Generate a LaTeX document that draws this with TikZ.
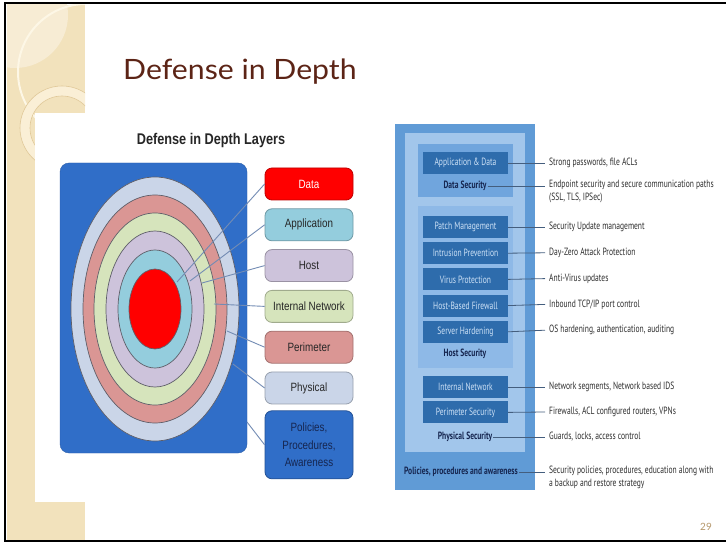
\documentclass[tikz,border=0pt]{standalone}
\usepackage{fontspec}
\setmainfont{Liberation Sans}
\newfontfamily\slidefont[FakeStretch=1.08]{Lato}
\newfontfamily\pagefont{Lato}
\newfontfamily\layerfont[FakeStretch=0.82]{Liberation Sans}
\newfontfamily\narrowfont[FakeStretch=0.72]{PT Sans}
\usetikzlibrary{positioning}

\begin{document}
\begin{tikzpicture}[x=1pt,y=-1pt,
  ringline/.style={draw=ringedge,line width=0.7pt},
  layerlabel/.style={draw=#1!75!black,fill=#1,rounded corners=7pt,line width=0.8pt,
    minimum width=88pt,minimum height=32pt,inner sep=1pt,
    font=\layerfont\fontsize{12}{17.5}\selectfont,text=black!85},
  ringlink/.style={draw=linkblue,line width=0.9pt},
  darkbox/.style={fill=boxdark,minimum width=85pt,minimum height=22pt,inner sep=0pt,
    font=\narrowfont\fontsize{10.5}{12}\selectfont,text=boxtext},
  layername/.style={font=\narrowfont\bfseries\fontsize{10.5}{12}\selectfont,text=navytext,inner sep=1pt},
  note/.style={font=\narrowfont\fontsize{10.5}{13}\selectfont,text=notetext,
    inner xsep=4pt,inner ysep=1pt,align=left},
  notelink/.style={draw=notelinecol,line width=0.8pt}]
\definecolor{stripbeige}{RGB}{242,226,188}
\definecolor{stripglow}{RGB}{247,236,212}
\definecolor{arccream}{RGB}{253,247,230}
\definecolor{ringcream}{RGB}{250,239,214}
\definecolor{ringtan}{RGB}{224,200,152}
\definecolor{titlebrown}{RGB}{92,36,22}
\definecolor{pagetan}{RGB}{180,150,105}
\definecolor{layerblue}{RGB}{48,110,200}
\definecolor{ringedge}{RGB}{95,95,105}
\definecolor{physfill}{RGB}{202,213,232}
\definecolor{perifill}{RGB}{218,150,148}
\definecolor{netfill}{RGB}{214,228,188}
\definecolor{hostfill}{RGB}{205,195,219}
\definecolor{appfill}{RGB}{148,205,221}
\definecolor{datafill}{RGB}{255,0,0}
\definecolor{linkblue}{RGB}{115,140,180}
\definecolor{navytext}{RGB}{22,38,80}
\definecolor{outerblue}{RGB}{96,155,214}
\definecolor{midblue}{RGB}{162,198,235}
\definecolor{datablue}{RGB}{112,165,221}
\definecolor{hostblue}{RGB}{142,185,231}
\definecolor{boxdark}{RGB}{46,108,172}
\definecolor{boxtext}{RGB}{205,225,246}
\definecolor{notetext}{RGB}{45,45,45}
\definecolor{notelinecol}{RGB}{68,94,126}

\useasboundingbox (0,0) rectangle (726,545);

% slide background
\fill[stripbeige] (7,5) rectangle (85,541);
\begin{scope}
\clip (7,5) rectangle (85,541);
\fill[stripglow] (15,15) circle [radius=53];
\draw[arccream,line width=2pt] (86,72) circle [radius=68];
\draw[ringtan,fill=ringcream,even odd rule,line width=0.6pt]
  (62,128) circle [radius=42] (62,128) circle [radius=32];
\end{scope}
\fill[white] (35,113) rectangle (370,502);
\draw[line width=2.5pt] (726,3) -- (5,3) -- (5,541) -- (726,541);

\node[anchor=base west,inner sep=0pt,font=\slidefont\fontsize{28}{30}\selectfont,text=titlebrown]
  (slidetitle) at (123,80) {Defense in Depth};
\node[font=\pagefont\fontsize{10}{12}\selectfont,text=pagetan] (pagenum) at (706,527) {29};

% layers picture
\node[font=\layerfont\bfseries\fontsize{15.5}{17}\selectfont,text=black!85]
  (layershead) at (211,140) {Defense in Depth Layers};
\node[fill=layerblue,draw=layerblue!85!black,rounded corners=9pt,
  minimum width=187pt,minimum height=290pt] (bluebg) at (153.5,308) {};
\coordinate (ctr) at (155,309);
\draw[ringline,fill=physfill] (ctr) ellipse [x radius=84,y radius=132];
\draw[ringline,fill=perifill] (ctr) ellipse [x radius=72,y radius=114];
\draw[ringline,fill=netfill] (ctr) ellipse [x radius=61,y radius=96];
\draw[ringline,fill=hostfill] (ctr) ellipse [x radius=49,y radius=78];
\draw[ringline,fill=appfill] (ctr) ellipse [x radius=37,y radius=59];
\draw[ringline,fill=datafill] (ctr) ellipse [x radius=26,y radius=40];

\coordinate (onData) at (177,282);
\coordinate (onApp) at (190,281);
\coordinate (onHost) at (202,283);
\coordinate (onNet) at (214,304);
\coordinate (onPeri) at (227,331);
\coordinate (onPhys) at (233,364);
\coordinate (onPol) at (247,422);

\node[layerlabel=datafill,text=white] (lblData) at (309,184) {Data};
\node[layerlabel=appfill,below=8pt of lblData] (lblApp) {Application};
\node[layerlabel=hostfill,below=8pt of lblApp] (lblHost) {Host};
\node[layerlabel=netfill,below=8pt of lblHost] (lblNet) {Internal Network};
\node[layerlabel=perifill,below=8pt of lblNet] (lblPeri) {Perimeter};
\node[layerlabel=physfill,below=8pt of lblPeri] (lblPhys) {Physical};
\node[layerlabel=layerblue,below=6pt of lblPhys,minimum height=68pt,align=center,text=navytext]
  (lblPol) {Policies,\\Procedures,\\Awareness};

\draw[ringlink] (lblData.west) -- (onData);
\draw[ringlink] (lblApp.west) -- (onApp);
\draw[ringlink] (lblHost.west) -- (onHost);
\draw[ringlink] (lblNet.west) -- (onNet);
\draw[ringlink] (lblPeri.west) -- (onPeri);
\draw[ringlink] (lblPhys.west) -- (onPhys);
\draw[ringlink] (lblPol.west) -- (onPol);

% stack picture
\fill[outerblue] (395,124) rectangle (535,490);
\fill[midblue] (405,133) rectangle (525,452);
\fill[datablue] (418,144) rectangle (513,197);
\fill[hostblue] (418,206) rectangle (513,368);

\node[darkbox] (appdata) at (465.5,163) {Application \& Data};
\node[layername] (datasec) at (465,186) {Data Security};
\node[darkbox] (patch) at (465.5,227) {Patch Management};
\node[darkbox,below=3.8pt of patch] (intrusion) {Intrusion Prevention};
\node[darkbox,below=3.8pt of intrusion] (virus) {Virus Protection};
\node[darkbox,below=3.8pt of virus] (hostfw) {Host-Based Firewall};
\node[darkbox,below=3.8pt of hostfw] (hardening) {Server Hardening};
\node[layername] (hostsec) at (465,354) {Host Security};
\node[darkbox] (intnet) at (465.5,387) {Internal Network};
\node[darkbox,below=3pt of intnet] (perisec) {Perimeter Security};
\node[layername] (physsec) at (465,437) {Physical Security};
\node[layername] (polsec) at (461,472) {Policies, procedures and awareness};

\node[note,anchor=west] (nAppData) at (545,163) {Strong passwords, file ACLs};
\node[note,anchor=north west] (nDataSec) at (545,178.5)
  {Endpoint security and secure communication paths\\(SSL, TLS, IPSec)};
\node[note,anchor=west] (nPatch) at (545,227) {Security Update management};
\node[note,anchor=west] (nIntrusion) at (545,252.8) {Day-Zero Attack Protection};
\node[note,anchor=west] (nVirus) at (545,278.6) {Anti-Virus updates};
\node[note,anchor=west] (nHostfw) at (545,304.4) {Inbound TCP/IP port control};
\node[note,anchor=west] (nHardening) at (545,330.2) {OS hardening, authentication, auditing};
\node[note,anchor=west] (nIntnet) at (545,387) {Network segments, Network based IDS};
\node[note,anchor=west] (nPerisec) at (545,412) {Firewalls, ACL configured routers, VPNs};
\node[note,anchor=west] (nPhyssec) at (545,437) {Guards, locks, access control};
\node[note,anchor=north west] (nPolsec) at (545,464.5)
  {Security policies, procedures, education along with\\a backup and restore strategy};

\draw[notelink] (appdata.east) -- (nAppData.west);
\draw[notelink] (datasec.east) -- (datasec.east -| nDataSec.west);
\draw[notelink] (patch.east) -- (nPatch.west);
\draw[notelink] (intrusion.east) -- (nIntrusion.west);
\draw[notelink] (virus.east) -- (nVirus.west);
\draw[notelink] (hostfw.east) -- (nHostfw.west);
\draw[notelink] (hardening.east) -- (nHardening.west);
\draw[notelink] (intnet.east) -- (nIntnet.west);
\draw[notelink] (perisec.east) -- (nPerisec.west);
\draw[notelink] (physsec.east) -- (nPhyssec.west);
\draw[notelink] (polsec.east) -- (polsec.east -| nPolsec.west);
\end{tikzpicture}
\end{document}
